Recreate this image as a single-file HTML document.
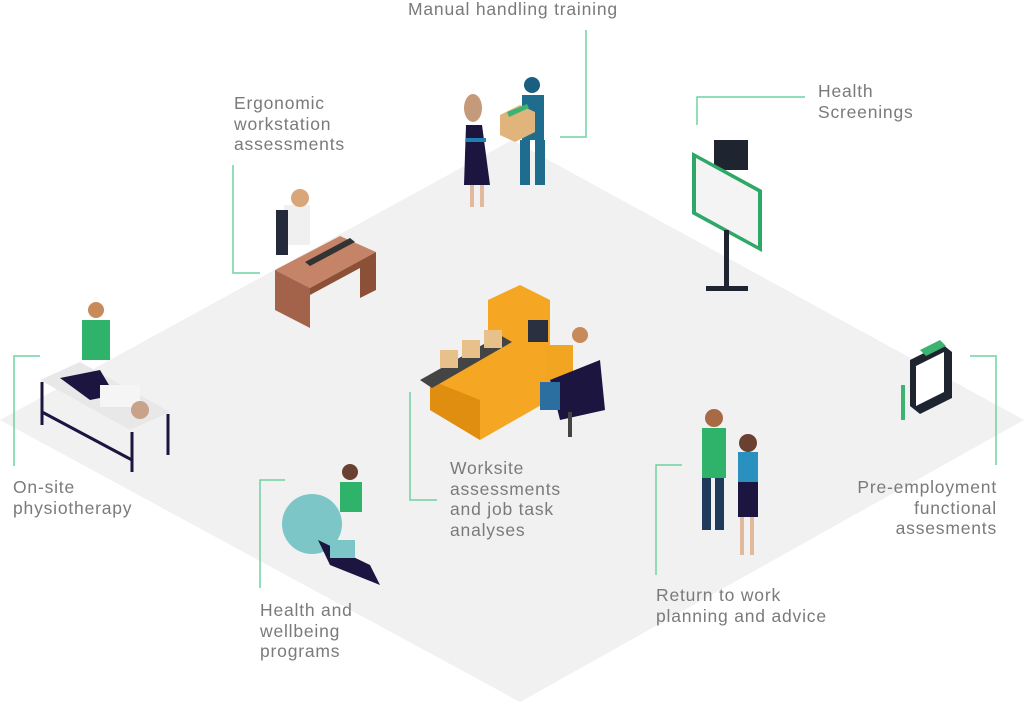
<!DOCTYPE html>
<html><head><meta charset="utf-8"><style>
html,body{margin:0;padding:0;background:#fff;width:1024px;height:718px;overflow:hidden}
.l{position:absolute;font-family:"Liberation Sans",sans-serif;font-size:17.5px;line-height:20.5px;color:#7a7a7a;letter-spacing:0.8px;white-space:nowrap}
</style></head><body>
<svg width="1024" height="718" style="position:absolute;left:0;top:0">
<polygon points="512,140 1024,420 520,702 0,420" fill="#f1f1f1"/>
<g stroke="#6fd3a0" stroke-width="1.5" fill="none">
<polyline points="586,30 586,137 560,137"/>
<polyline points="805,97 697,97 697,125"/>
<polyline points="233,165 233,273 260,273"/>
<polyline points="40,356 14,356 14,466"/>
<polyline points="970,356 996,356 996,465"/>
<polyline points="410,392 410,500 437,500"/>
<polyline points="285,480 260,480 260,588"/>
<polyline points="682,465 656,465 656,575"/>
</g>
<!-- manual handling -->
<ellipse cx="473" cy="108" rx="9" ry="14" fill="#c49a7a"/>
<path d="M466,125 L482,125 L490,185 L464,185Z" fill="#1c1540"/>
<rect x="466" y="138" width="20" height="4" fill="#1e7fb0"/>
<rect x="470" y="185" width="4" height="22" fill="#e2b99a"/><rect x="480" y="185" width="4" height="22" fill="#e2b99a"/>
<circle cx="532" cy="85" r="8" fill="#1b5f80"/>
<rect x="522" y="95" width="22" height="45" fill="#1e6d8e"/>
<rect x="520" y="140" width="10" height="45" fill="#1e6d8e"/><rect x="535" y="140" width="10" height="45" fill="#1e6d8e"/>
<polygon points="500,115 520,105 535,112 535,132 515,142 500,135" fill="#e0b47a"/>
<polygon points="507,112 527,104 529,108 509,117" fill="#3cb371"/>
<!-- screening -->
<rect x="714" y="140" width="34" height="30" fill="#1f2530"/>
<polygon points="692,152 762,190 762,252 692,214" fill="#2ea866"/>
<polygon points="696,158 758,192 758,246 696,212" fill="#f4f4f4"/>
<rect x="724" y="230" width="5" height="60" fill="#1f2530"/>
<rect x="706" y="286" width="42" height="5" fill="#1f2530"/>
<!-- ergonomic -->
<polygon points="275,270 340,236 376,252 310,288" fill="#c58468"/>
<polygon points="275,270 310,288 310,328 275,310" fill="#a3634a"/>
<polygon points="310,288 376,252 376,290 360,298 360,268 310,295" fill="#8c5037"/>
<rect x="284" y="205" width="26" height="40" fill="#f0f0f0"/>
<circle cx="300" cy="198" r="9" fill="#d9a67a"/>
<rect x="276" y="210" width="12" height="45" fill="#252a3a"/>
<polygon points="305,262 350,238 355,242 310,266" fill="#333"/>
<!-- machine -->
<polygon points="488,300 520,285 550,300 550,400 480,440 430,410 430,380 488,350" fill="#f5a623"/>
<polygon points="430,410 480,440 480,400 430,380" fill="#e08e10"/>
<polygon points="420,380 500,335 512,342 432,388" fill="#444"/>
<rect x="440" y="350" width="18" height="18" fill="#e8c08a"/><rect x="462" y="340" width="18" height="18" fill="#e8c08a"/><rect x="484" y="330" width="18" height="18" fill="#e8c08a"/>
<rect x="528" y="320" width="20" height="22" fill="#2a3040"/>
<rect x="545" y="345" width="28" height="35" fill="#f1a520"/>
<circle cx="580" cy="335" r="8" fill="#c98a5a"/>
<path d="M550,380 L600,360 L605,410 L560,420Z" fill="#1c1540"/>
<rect x="540" y="382" width="20" height="28" fill="#2a6fa0"/>
<rect x="568" y="412" width="4" height="25" fill="#444"/>
<!-- clipboard -->
<polygon points="910,360 942,344 952,352 952,398 920,414 910,406" fill="#1f2530"/>
<polygon points="916,366 944,352 944,392 916,406" fill="#fff"/>
<polygon points="920,350 940,340 946,346 926,356" fill="#3cb371"/>
<rect x="901" y="385" width="4" height="35" fill="#3cb371"/>
<!-- physio -->
<polygon points="40,380 130,430 170,412 80,362" fill="#e8e8e8"/>
<g stroke="#1c1540" stroke-width="3"><line x1="42" y1="382" x2="42" y2="425"/><line x1="132" y1="432" x2="132" y2="472"/><line x1="168" y1="414" x2="168" y2="455"/><line x1="42" y1="412" x2="132" y2="460"/></g>
<rect x="82" y="320" width="28" height="40" fill="#2fb36a"/>
<circle cx="96" cy="310" r="8" fill="#c98a5a"/>
<path d="M60,378 L100,370 L115,395 L90,400Z" fill="#1c1540"/>
<rect x="100" y="385" width="40" height="22" fill="#f5f5f5"/>
<circle cx="140" cy="410" r="9" fill="#c9a28a"/>
<!-- wellbeing -->
<circle cx="312" cy="524" r="30" fill="#7cc6c8"/>
<circle cx="350" cy="472" r="8" fill="#6a4030"/>
<rect x="340" y="482" width="22" height="30" fill="#2fb36a"/>
<path d="M318,540 L370,565 L380,585 L330,565Z" fill="#1c1540"/>
<rect x="330" y="540" width="25" height="18" fill="#7cc6c8"/>
<!-- return to work -->
<circle cx="714" cy="418" r="9" fill="#a86a45"/>
<rect x="702" y="428" width="24" height="50" fill="#2fb36a"/>
<rect x="702" y="478" width="9" height="52" fill="#1f3a5a"/><rect x="715" y="478" width="9" height="52" fill="#1f3a5a"/>
<circle cx="748" cy="443" r="9" fill="#6a4030"/>
<rect x="738" y="452" width="20" height="30" fill="#2a90c0"/>
<rect x="738" y="482" width="20" height="35" fill="#1c1540"/>
<rect x="740" y="517" width="4" height="38" fill="#e2b99a"/><rect x="750" y="517" width="4" height="38" fill="#e2b99a"/>
</svg>
<div class="l" style="left:408px;top:-1px">Manual handling training</div>
<div class="l" style="left:818px;top:81px">Health<br>Screenings</div>
<div class="l" style="left:234px;top:93px">Ergonomic<br>workstation<br>assessments</div>
<div class="l" style="left:13px;top:477px">On-site<br>physiotherapy</div>
<div class="l" style="left:800px;top:477px;width:197px;text-align:right">Pre-employment<br>functional<br>assesments</div>
<div class="l" style="left:450px;top:458px">Worksite<br>assessments<br>and job task<br>analyses</div>
<div class="l" style="left:260px;top:600px">Health and<br>wellbeing<br>programs</div>
<div class="l" style="left:656px;top:585px">Return to work<br>planning and advice</div>
</body></html>
